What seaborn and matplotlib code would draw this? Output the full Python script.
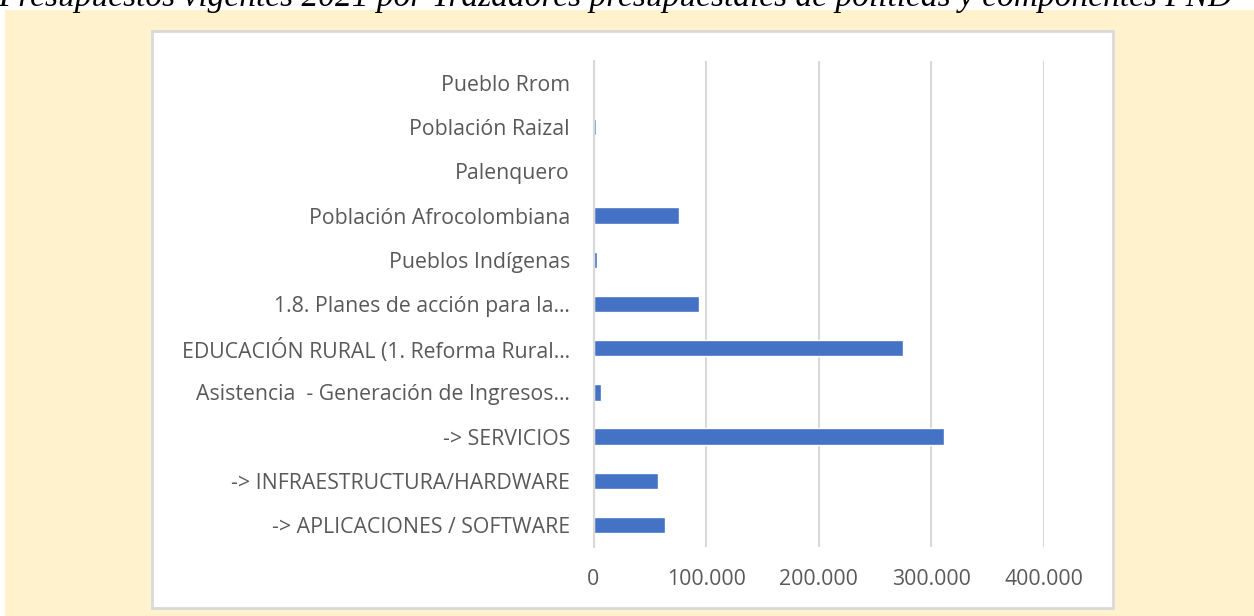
import matplotlib
matplotlib.use("Agg")
import matplotlib.pyplot as plt
import matplotlib.ticker as mticker
from matplotlib.patches import Rectangle
import pandas as pd
import seaborn as sns

categorias = [
    "Pueblo Rrom",
    "Población Raizal",
    "Palenquero",
    "Población Afrocolombiana",
    "Pueblos Indígenas",
    "1.8. Planes de acción para la…",
    "EDUCACIÓN RURAL (1. Reforma Rural…",
    "Asistencia  - Generación de Ingresos…",
    "-> SERVICIOS",
    "-> INFRAESTRUCTURA/HARDWARE",
    "-> APLICACIONES / SOFTWARE",
]
valores = [0, 2200, 0, 76100, 3100, 93900, 274900, 6600, 311300, 57500, 63700]
ticks_x = [0, 100000, 200000, 300000, 400000]

titulo = "Presupuestos vigentes 2021 por Trazadores presupuestales de políticas y componentes PND"

df = pd.DataFrame({"categoria": categorias, "valor": valores})

sns.set_style("white")
plt.rcParams["font.family"] = ["Open Sans", "DejaVu Sans"]

W, H = 1254, 616
fig = plt.figure(figsize=(W / 100, H / 100), dpi=100)
fig.patch.set_facecolor("white")

# fondo durazno y recuadro blanco del gráfico
fig.patches.append(Rectangle((5 / W, 0), 1 - 5 / W, 1 - 10 / H, transform=fig.transFigure,
                             facecolor="#FFF2CC", edgecolor="none", zorder=0))
fig.patches.append(Rectangle((152 / W, 1 - 608 / H), (1113 - 152) / W, (608 - 31) / H,
                             transform=fig.transFigure, facecolor="white",
                             edgecolor="#D9D9D9", linewidth=2, zorder=1))

# el título queda cortado arriba, como en la imagen original
fig.text(-2 / W, 1 - 6 / H, titulo, family="Liberation Serif", style="italic",
         fontsize=24, va="baseline", ha="left", color="black")

ax = fig.add_axes([593.5 / W, 1 - 547 / H, (1044 - 593.5) / W, (547 - 61) / H])
ax.set_facecolor("none")
ax.set_zorder(2)

sns.barplot(data=df, x="valor", y="categoria", orient="h", color="#4472C4",
            saturation=1, width=0.37, ax=ax)

ax.set_xlim(0, 400000)
ax.set_xticks(ticks_x)
ax.xaxis.set_major_formatter(mticker.FuncFormatter(lambda v, p: f"{int(v):,}".replace(",", ".")))
ax.grid(axis="x", color="#D9D9D9", linewidth=1.5)
ax.grid(axis="y", visible=False)
ax.set_axisbelow(True)
for s in ["top", "right", "bottom"]:
    ax.spines[s].set_visible(False)
ax.spines["left"].set_color("#D9D9D9")
ax.spines["left"].set_linewidth(1.5)
ax.tick_params(axis="both", length=0, colors="#595959", labelsize=15.3)
ax.tick_params(axis="y", pad=17)
ax.tick_params(axis="x", pad=16)
ax.set_xlabel("")
ax.set_ylabel("")

fig.savefig("out.png", dpi=100)
